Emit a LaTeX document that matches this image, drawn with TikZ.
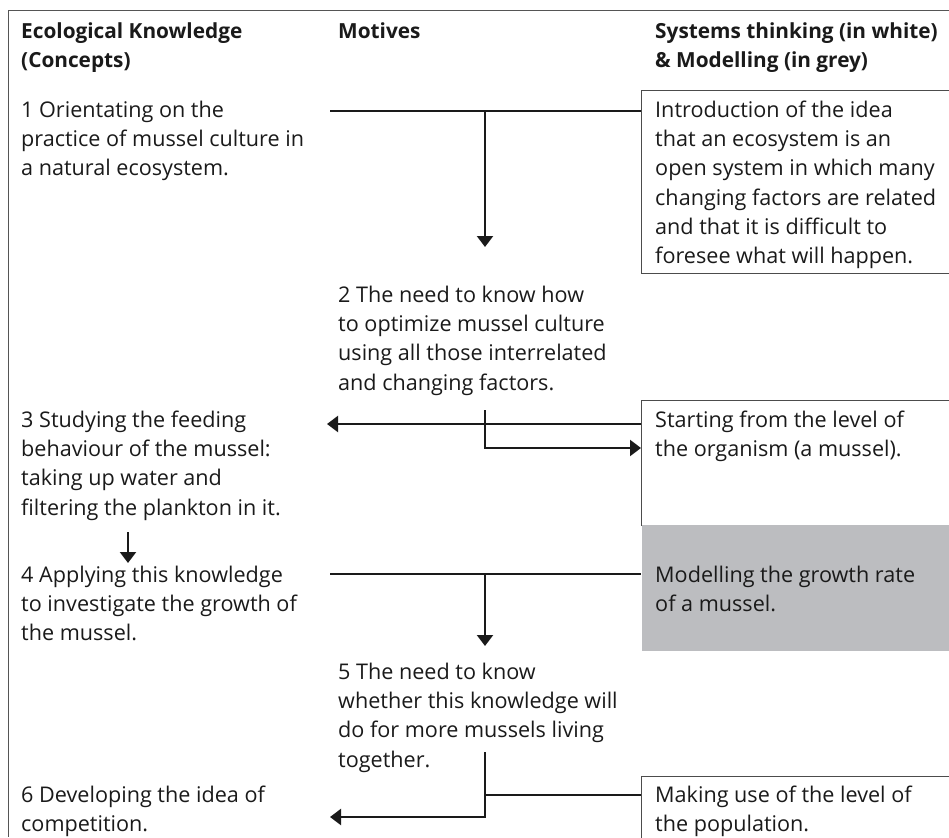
\documentclass[tikz,border=0pt]{standalone}
\usepackage{fontspec}
\setmainfont{Open Sans}
\usetikzlibrary{arrows.meta}
\definecolor{framegrey}{HTML}{555555}
\definecolor{boxgrey}{HTML}{BCBDC0}
\definecolor{ink}{HTML}{1A1A1A}
\begin{document}
\begin{tikzpicture}[x=1pt,y=-1pt,
  txt/.style={anchor=north west, inner sep=0pt, align=left, text=ink,
    font=\fontsize{21.6}{29.3}\selectfont},
  hd/.style={txt, font=\fontsize{20.8}{29.3}\selectfont\bfseries},
  conn/.style={line width=2.2pt, draw=ink},
  arr/.style={conn, -{Triangle[length=11pt,width=16pt]}},
  box/.style={draw=black!70, line width=0.8pt, anchor=north west, inner sep=0pt},
]
\useasboundingbox (0,0) rectangle (949,837);
\draw[framegrey, line width=0.9pt] (949,10) -- (8,10) -- (8,837);

% boxes
\node[box, minimum width=330pt, minimum height=183pt] (b1) at (641,90) {};
\node[box, minimum width=330pt, minimum height=125pt] (b2) at (641,400) {};
\node[anchor=north west, inner sep=0pt, fill=boxgrey, minimum width=330pt, minimum height=126pt] (g) at (641.4,525) {};
\node[box, minimum width=330pt, minimum height=80pt] (b3) at (641,776) {};

% headers
\node[hd] (h1) at (21,17.5) {\strut Ecological Knowledge\\(Concepts)};
\node[hd] (h2) at (338,17.5) {\strut Motives};
\node[hd] (h3) at (655,17.5) {\strut Systems thinking (in white)\\\& Modelling (in grey)};

% column texts
\node[txt] (t1) at (21,96.5) {\strut 1 Orientating on the\\practice of mussel culture in\\a natural ecosystem.};
\node[txt] (s1) at (655,96.5) {\strut Introduction of the idea\\that an ecosystem is an\\open system in which many\\changing factors are related\\and that it is difficult to\\foresee what will happen.};
\node[txt] (t2) at (338,281.5) {\strut 2 The need to know how\\to optimize mussel culture\\using all those interrelated\\and changing factors.};
\node[txt] (t3) at (21,406.5) {\strut 3 Studying the feeding\\behaviour of the mussel:\\taking up water and\\filtering the plankton in it.};
\node[txt] (s2) at (655,406.5) {\strut Starting from the level of\\the organism (a mussel).};
\node[txt] (t4) at (21,561.5) {\strut 4 Applying this knowledge\\to investigate the growth of\\the mussel.};
\node[txt] (s3) at (655,561.5) {\strut Modelling the growth rate\\of a mussel.};
\node[txt] (t5) at (338,658.5) {\strut 5 The need to know\\whether this knowledge will\\do for more mussels living\\together.};
\node[txt] (t6) at (21,781.5) {\strut 6 Developing the idea of\\competition.};
\node[txt] (s4) at (655,781.5) {\strut Making use of the level of\\the population.};

% connector points
\coordinate (a1) at (330,111);
\coordinate (a2) at (485,111);
\coordinate (a3) at (485,247);
\coordinate (c1) at (327,424);
\coordinate (c2) at (485,410);
\coordinate (c3) at (485,448);
\coordinate (d1) at (128,532);
\coordinate (d2) at (128,563);
\coordinate (e1) at (330,574);
\coordinate (e2) at (485,574);
\coordinate (e3) at (485,646);
\coordinate (f1) at (485,752);
\coordinate (f2) at (485,817);
\coordinate (f3) at (330,817);
\coordinate (f4) at (485,795);

% connectors
\draw[conn] (a1) -- (a1 -| b1.west);
\draw[arr] (a2) -- (a3);
\draw[arr] (b2.west |- c1) -- (c1);
\draw[arr] (c2) -- (c3) -- (c3 -| b2.west);
\draw[arr] (d1) -- (d2);
\draw[conn] (e1) -- (e1 -| g.west);
\draw[arr] (e2) -- (e3);
\draw[arr] (f1) -- (f2) -- (f3);
\draw[conn] (b3.west |- f4) -- (f4);
\end{tikzpicture}
\end{document}
